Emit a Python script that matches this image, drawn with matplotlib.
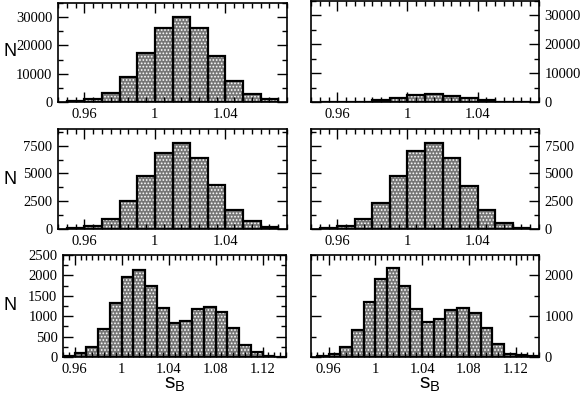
import numpy as np
import matplotlib.pyplot as plt
from matplotlib.ticker import MultipleLocator, FuncFormatter

plt.rcParams['hatch.linewidth'] = 0.8
plt.rcParams['mathtext.fontset'] = 'custom'
plt.rcParams['mathtext.rm'] = 'Liberation Sans'

W, H = 581, 395

# bin lower edges (width 0.01)
edges_short = np.round(np.arange(0.95, 1.065, 0.01), 3)   # 12 bins, top + middle rows
edges_long = np.round(np.arange(0.95, 1.135, 0.01), 3)    # 19 bins, bottom row

top_left = [200, 1100, 3200, 8800, 17400, 26100, 30200, 26100, 16300, 7600, 2700, 900]
top_right = [0, 50, 150, 600, 1400, 2300, 2650, 2250, 1450, 700, 150, 50]
mid_left = [50, 250, 900, 2500, 4740, 6840, 7740, 6390, 3960, 1710, 720, 150]
mid_right = [50, 230, 860, 2380, 4760, 7000, 7710, 6400, 3900, 1700, 540, 120]
bot_left = [15, 100, 250, 680, 1320, 1960, 2130, 1750, 1210, 840, 890, 1180,
            1220, 1100, 710, 305, 120, 25, 10]
bot_right = [30, 80, 245, 650, 1350, 1910, 2170, 1730, 1180, 865, 930, 1140,
             1200, 1080, 700, 310, 80, 40, 15]

fig = plt.figure(figsize=(W / 100, H / 100), dpi=100)


def make_ax(x0, x1, y0, y1):
    return fig.add_axes([x0 / W, 1 - y1 / H, (x1 - x0) / W, (y1 - y0) / H])


fmt = FuncFormatter(lambda v, p: f'{v:g}')


def panel(ax, edges, counts, xlim, ylim, ymaj, ymin, right=False):
    ax.bar(edges, counts, width=0.01, align='edge', color='#767676',
           edgecolor='white', linewidth=0, hatch='.....')
    ax.bar(edges, counts, width=0.01, align='edge', fill=False,
           edgecolor='black', linewidth=1.6)
    ax.set_xlim(*xlim)
    ax.set_ylim(*ylim)
    ax.xaxis.set_major_locator(MultipleLocator(0.04))
    ax.xaxis.set_minor_locator(MultipleLocator(0.005))
    ax.yaxis.set_major_locator(MultipleLocator(ymaj))
    ax.yaxis.set_minor_locator(MultipleLocator(ymin))
    ax.xaxis.set_major_formatter(fmt)
    ax.tick_params(which='both', direction='in', top=True, right=True,
                   left=True, bottom=True, width=1.0, labelsize=10.5, pad=4)
    ax.tick_params(which='major', length=7)
    ax.tick_params(which='minor', length=3.5)
    if right:
        ax.tick_params(axis='y', labelleft=False, labelright=True)
    for s in ax.spines.values():
        s.set_linewidth(1.2)
    for lab in ax.get_xticklabels() + ax.get_yticklabels():
        lab.set_family('Liberation Serif')


short_x = (0.945, 1.075)
long_x = (0.95, 1.14)

ax = make_ax(58, 287, 3, 102)
panel(ax, edges_short, top_left, short_x, (0, 35000), 10000, 5000)
ax = make_ax(311, 539, 1, 102)
panel(ax, edges_short, top_right, short_x, (0, 35000), 10000, 5000, right=True)
ax = make_ax(58, 287, 129, 229)
panel(ax, edges_short, mid_left, short_x, (0, 9000), 2500, 1250)
ax = make_ax(311, 539, 129, 229)
panel(ax, edges_short, mid_right, short_x, (0, 9000), 2500, 1250, right=True)
ax_bl = make_ax(63, 286, 255, 357)
panel(ax_bl, edges_long, bot_left, long_x, (0, 2500), 500, 250)
ax_br = make_ax(311, 539, 255, 357)
panel(ax_br, edges_long, bot_right, (0.945, 1.14), (0, 2500), 1000, 500, right=True)

for y in (52, 180, 306):
    fig.text(10 / W, 1 - y / H, 'N', fontsize=13, family='Liberation Sans',
             ha='center', va='center')
for x in (175, 430):
    fig.text(x / W, 1 - 394 / H, r'$\mathrm{s}_\mathrm{B}$', fontsize=15,
             ha='center', va='bottom')

fig.savefig('out.png', dpi=100)
